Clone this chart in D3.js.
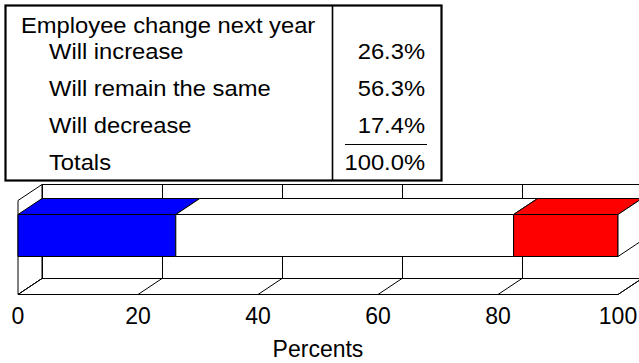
<!DOCTYPE html>
<html>
<head>
<meta charset="utf-8">
<script src="https://cdn.jsdelivr.net/npm/d3@7"></script>
<style>
  html, body { margin: 0; padding: 0; background: #fff; }
  svg { display: block; font-family: Arial, "Liberation Sans", sans-serif; }
</style>
</head>
<body>
<svg id="chart" width="639" height="363"></svg>
<script>
// Survey answers and their shares (percent)
const tableTitle = "Employee change next year";
const categories = ["Will increase", "Will remain the same", "Will decrease"];
const values = [26.3, 56.3, 17.4];
const barColors = ["#0000ff", "#ffffff", "#ff0000"];
const totalLabel = "Totals";
const tickValues = [0, 20, 40, 60, 80, 100];
const axisTitle = "Percents";

const svg = d3.select("#chart");

// ---------- summary table ----------
const table = svg.append("g");
table.append("rect")
  .attr("x", 5.5).attr("y", 5.5).attr("width", 436).attr("height", 175)
  .attr("fill", "#fff").attr("stroke", "#000").attr("stroke-width", 2.2);
table.append("line")
  .attr("x1", 332.5).attr("x2", 332.5).attr("y1", 5.5).attr("y2", 180.5)
  .attr("stroke", "#000").attr("stroke-width", 1.6);

const fmt = v => v.toFixed(1) + "%";
const rowY = d3.scaleLinear().domain([0, 1]).range([59, 96]);
const fontSize = 22;
const stretch = 1.08;   // table lettering is set slightly wide
const place = (px, py) => `translate(${px},${py}) scale(${stretch},1)`;

table.append("text")
  .attr("transform", place(21, 33))
  .attr("font-size", fontSize).attr("fill", "#000")
  .text(tableTitle);

const rows = categories.map((c, i) => ({ label: c, value: fmt(values[i]) }));
rows.push({ label: totalLabel, value: fmt(d3.sum(values)) });

table.selectAll("text.lab").data(rows).join("text")
  .attr("class", "lab")
  .attr("transform", (d, i) => place(49, rowY(i)))
  .attr("font-size", fontSize).attr("fill", "#000")
  .text(d => d.label);

table.selectAll("text.val").data(rows).join("text")
  .attr("class", "val")
  .attr("transform", (d, i) => place(425, rowY(i)))
  .attr("text-anchor", "end")
  .attr("font-size", fontSize).attr("fill", "#000")
  .text(d => d.value);

// rule above the total
table.append("line")
  .attr("x1", 345).attr("x2", 427)
  .attr("y1", rowY(2) + 11.5).attr("y2", rowY(2) + 11.5)
  .attr("stroke", "#000").attr("stroke-width", 1);

// ---------- 3D stacked bar ----------
const x = d3.scaleLinear().domain([0, 100]).range([18, 618]);
const depthX = 24, depthY = -16;

const frontTop = 200.5, frontBottom = 294.5;   // walls, front edge
const barTop = 214.5, barBottom = 256.5;       // bar front face
const backTop = frontTop + depthY, backBottom = frontBottom + depthY;

const g = svg.append("g")
  .attr("fill", "#fff").attr("stroke", "#000").attr("stroke-width", 1)
  .attr("stroke-linejoin", "miter");

const pt = (px, py) => [px, py];
const poly = pts => "M" + pts.map(p => p.join(",")).join("L") + "Z";

// back wall
g.append("path").attr("d", poly([
  pt(x(0) + depthX, backTop), pt(x(100) + depthX, backTop),
  pt(x(100) + depthX, backBottom), pt(x(0) + depthX, backBottom)
]));
g.selectAll("line.backgrid").data(tickValues).join("line")
  .attr("class", "backgrid")
  .attr("x1", d => Math.round(x(d) + depthX) + 0.5).attr("x2", d => Math.round(x(d) + depthX) + 0.5)
  .attr("y1", backTop).attr("y2", backBottom);

// left wall
g.append("path").attr("d", poly([
  pt(x(0), frontTop), pt(x(0) + depthX, backTop),
  pt(x(0) + depthX, backBottom), pt(x(0), frontBottom)
]));

// floor
g.append("path").attr("d", poly([
  pt(x(0), frontBottom), pt(x(0) + depthX, backBottom),
  pt(x(100) + depthX, backBottom), pt(x(100), frontBottom)
]));
g.selectAll("line.floorgrid").data(tickValues).join("line")
  .attr("class", "floorgrid")
  .attr("x1", d => x(d)).attr("y1", frontBottom)
  .attr("x2", d => x(d) + depthX).attr("y2", backBottom);

// stacked segments
let acc = 0;
const segs = values.map((v, i) => {
  const s = { x0: acc, x1: acc + v, color: barColors[i] };
  acc += v;
  return s;
});

const segG = g.selectAll("g.seg").data(segs).join("g").attr("class", "seg");
segG.append("path")
  .attr("fill", d => d.color)
  .attr("d", d => poly([
    pt(x(d.x0), barTop), pt(x(d.x0) + depthX, barTop + depthY),
    pt(x(d.x1) + depthX, barTop + depthY), pt(x(d.x1), barTop)
  ]));
segG.append("path")
  .attr("fill", d => d.color)
  .attr("d", d => poly([
    pt(x(d.x0), barTop), pt(x(d.x1), barTop),
    pt(x(d.x1), barBottom), pt(x(d.x0), barBottom)
  ]));

// end cap of the bar
const last = segs[segs.length - 1];
g.append("path").attr("fill", "#fff").attr("d", poly([
  pt(x(last.x1), barTop), pt(x(last.x1) + depthX, barTop + depthY),
  pt(x(last.x1) + depthX, barBottom + depthY), pt(x(last.x1), barBottom)
]));

// ---------- axis labels ----------
svg.append("g").selectAll("text").data(tickValues).join("text")
  .attr("x", d => x(d)).attr("y", 324)
  .attr("text-anchor", "middle")
  .attr("font-size", 23).attr("fill", "#000")
  .text(d => d);

svg.append("text")
  .attr("x", x(50)).attr("y", 357)
  .attr("text-anchor", "middle")
  .attr("font-size", 23).attr("fill", "#000")
  .text(axisTitle);
</script>
</body>
</html>
